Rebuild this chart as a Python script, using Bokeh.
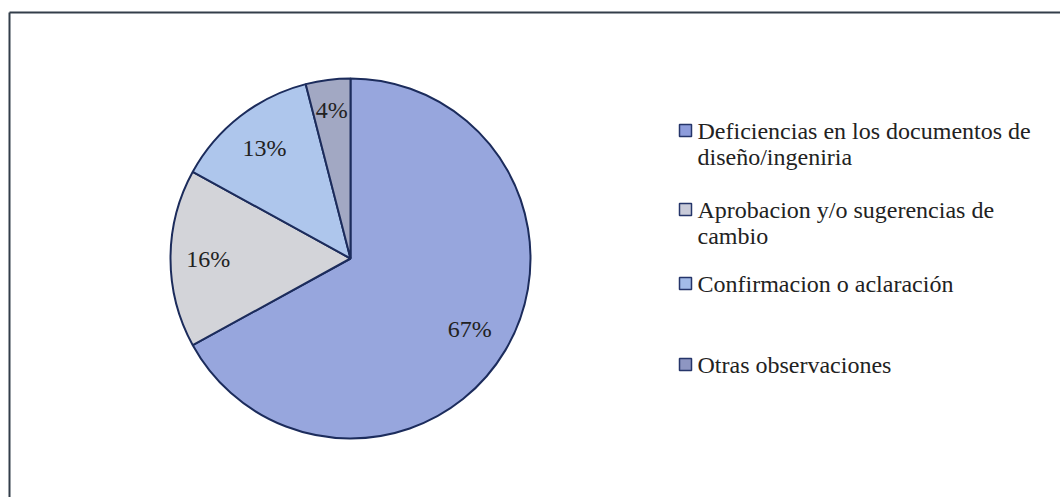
import math
from bokeh.plotting import figure
from bokeh.models import Range1d, ColumnDataSource
from bokeh.core.properties import value
from bokeh.embed import file_html
from bokeh.resources import INLINE

# ---- data ----
categories = [
    "Deficiencias en los documentos de diseño/ingeniria",
    "Aprobacion y/o sugerencias de cambio",
    "Confirmacion o aclaración",
    "Otras observaciones",
]
legend_lines = [
    ["Deficiencias en los documentos de", "diseño/ingeniria"],
    ["Aprobacion y/o sugerencias de", "cambio"],
    ["Confirmacion o aclaración"],
    ["Otras observaciones"],
]
percentages = [67, 16, 13, 4]
pct_labels = ["67%", "16%", "13%", "4%"]
slice_colors = ["#97a6dd", "#d3d4d9", "#aec6ec", "#a2a8c3"]
legend_colors = ["#8d9cdb", "#c9cbd9", "#a3bbe8", "#8e96c2"]

# ---- layout (pixel space) ----
W, H = 1060, 497
cx, cy = 350, H - 258
R = 180
FONT = "'Liberation Serif', 'Times New Roman', serif"
FS = "24px"
label_radius = [0.77, 0.79, 0.78, 0.83]

p = figure(width=W, height=H, output_backend="svg", toolbar_location=None,
           x_range=Range1d(0, W), y_range=Range1d(0, H), min_border=0)
p.axis.visible = False
p.grid.visible = False
p.outline_line_color = None
p.background_fill_color = "white"

# chart-area border (only top and left visible in window)
p.multi_line(xs=[[9, 9], [9, W + 20]], ys=[[-20, H - 12], [H - 12, H - 12]],
             line_color="#333e4a", line_width=2)

# pie slices
total = float(sum(percentages))
starts, ends, mids = [], [], []
cum = 0.0
for v in percentages:
    a0 = math.pi / 2 - 2 * math.pi * cum / total
    cum += v
    a1 = math.pi / 2 - 2 * math.pi * cum / total
    starts.append(a0)
    ends.append(a1)
    mids.append((a0 + a1) / 2)

src = ColumnDataSource(dict(start=starts, end=ends, color=slice_colors))
p.wedge(x=cx, y=cy, radius=R, start_angle="start", end_angle="end",
        direction="clock", fill_color="color", line_color="#1c2c5c",
        line_width=2, source=src)

lx = [cx + f * R * math.cos(m) for f, m in zip(label_radius, mids)]
ly = [cy + f * R * math.sin(m) for f, m in zip(label_radius, mids)]
p.text(x=lx, y=ly, text=pct_labels, text_font=value(FONT), text_font_size=FS,
       text_color="#222222", text_align="center", text_baseline="middle")

# legend
leg_y = [130, 209, 283, 364]
line_h = 26
mx, tx = 685, 697
p.scatter(x=[mx] * 4, y=[H - y for y in leg_y], marker="square", size=12,
          fill_color=legend_colors, line_color="#25356a", line_width=1.5)
txs, tys, tts = [], [], []
for lines, y in zip(legend_lines, leg_y):
    for i, t in enumerate(lines):
        txs.append(tx)
        tys.append(H - (y + i * line_h))
        tts.append(t)
p.text(x=txs, y=tys, text=tts, text_font=value(FONT), text_font_size=FS,
       text_color="#222222", text_align="left", text_baseline="middle")

open("out.html", "w").write(file_html(p, INLINE))
